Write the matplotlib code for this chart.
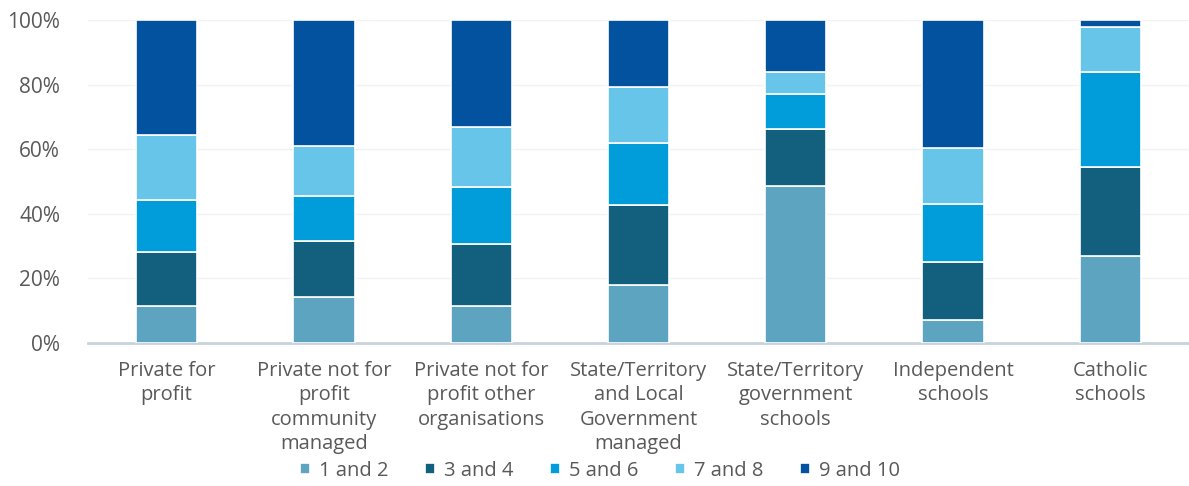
import numpy as np
import matplotlib.pyplot as plt
from matplotlib.ticker import PercentFormatter

plt.rcParams["font.family"] = ["Open Sans", "DejaVu Sans"]

categories = [
    "Private for\nprofit",
    "Private not for\nprofit\ncommunity\nmanaged",
    "Private not for\nprofit other\norganisations",
    "State/Territory\nand Local\nGovernment\nmanaged",
    "State/Territory\ngovernment\nschools",
    "Independent\nschools",
    "Catholic\nschools",
]
series_names = ["1 and 2", "3 and 4", "5 and 6", "7 and 8", "9 and 10"]

# share of each band per provider type (%)
band_1_2 = [11.5, 14.3, 11.5, 18.0, 48.5, 7.2, 27.0]
band_3_4 = [16.8, 17.2, 19.2, 24.6, 17.8, 17.9, 27.6]
band_5_6 = [16.0, 14.0, 17.5, 19.4, 10.8, 17.9, 29.4]
band_7_8 = [20.2, 15.5, 18.7, 17.2, 6.8, 17.5, 13.8]
band_9_10 = [35.5, 39.0, 33.1, 20.8, 16.1, 39.5, 2.2]

colors = ["#5DA4C1", "#125F7E", "#009DDA", "#67C5EA", "#0352A0"]
text_color = "#595959"

fig = plt.figure(figsize=(11.89, 4.86), dpi=100)
ax = fig.add_axes([0.074, 0.294, 0.926, 0.665])

x = np.arange(len(categories))
bottom = np.zeros(len(categories))
for name, vals, col in zip(series_names,
                           [band_1_2, band_3_4, band_5_6, band_7_8, band_9_10],
                           colors):
    vals = np.array(vals)
    ax.bar(x, vals, width=0.39, bottom=bottom, color=col, label=name,
           edgecolor="white", linewidth=1.2, zorder=3)
    bottom += vals

ax.set_xlim(-0.5, 6.5)
ax.set_ylim(0, 100)
ax.set_yticks(np.arange(0, 101, 20))
ax.yaxis.set_major_formatter(PercentFormatter(decimals=0))
ax.grid(axis="y", color="#F2F2F2", linewidth=1, zorder=0)
ax.set_axisbelow(True)

for side in ["top", "right", "left"]:
    ax.spines[side].set_visible(False)
ax.spines["bottom"].set_color("#C9D3DD")
ax.spines["bottom"].set_linewidth(2)

ax.set_xticks(x)
ax.set_xticklabels(categories, fontsize=14.5, color=text_color, linespacing=1.28)
ax.tick_params(axis="x", length=0, pad=13)
ax.tick_params(axis="y", length=0, pad=20, labelsize=15, labelcolor=text_color)

ax.legend(loc="center", bbox_to_anchor=(0.465, -0.395), ncol=5,
          frameon=False, fontsize=14.5, labelcolor=text_color,
          handlelength=0.5, handleheight=0.5, handletextpad=0.45,
          columnspacing=1.8)

fig.savefig("out.png", dpi=100)
